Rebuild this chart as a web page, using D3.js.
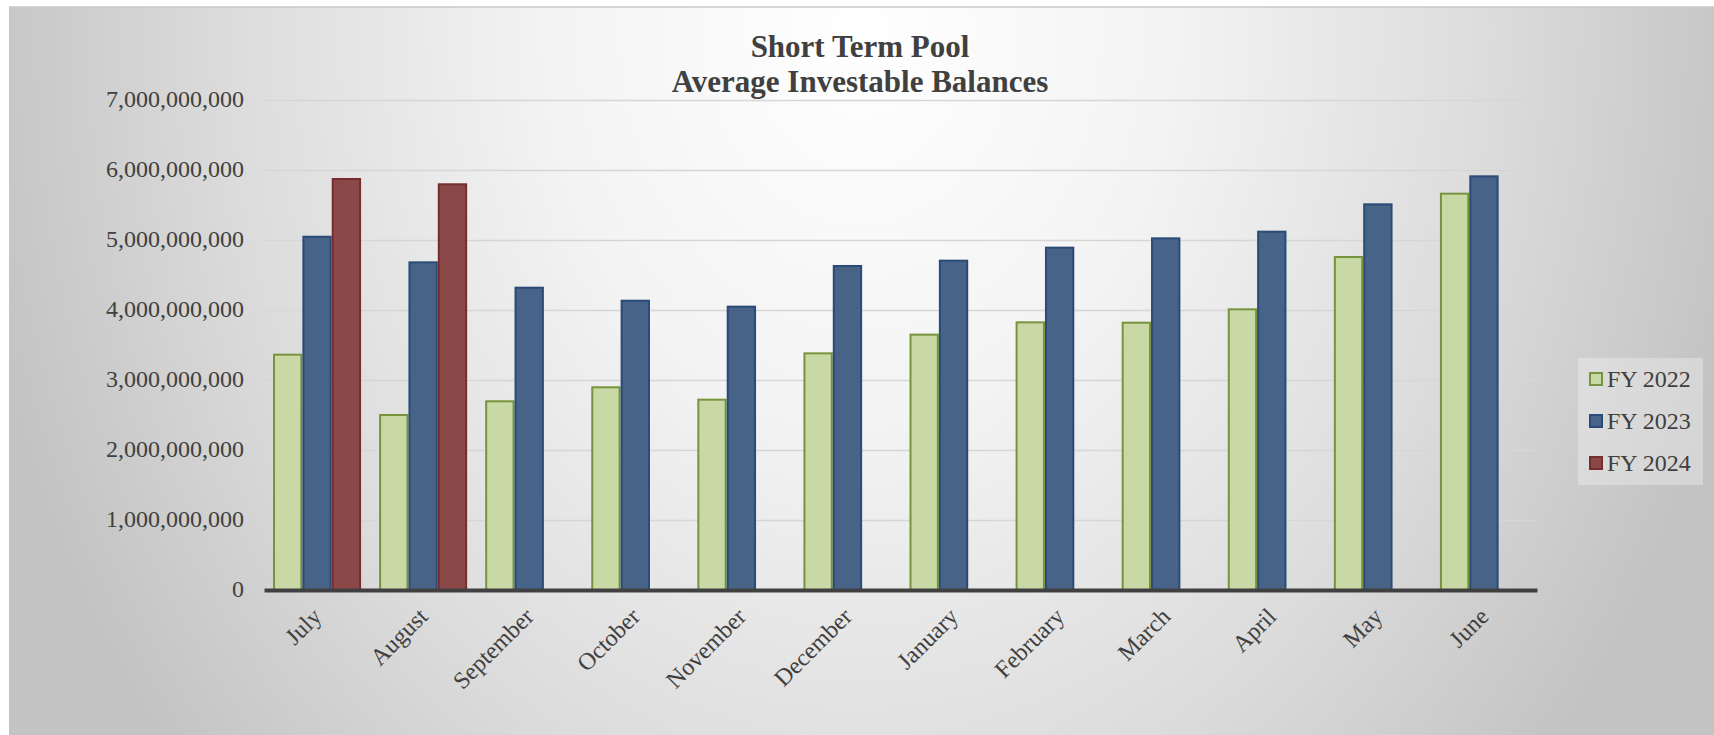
<!DOCTYPE html>
<html>
<head>
<meta charset="utf-8">
<script src="https://cdn.jsdelivr.net/npm/d3@7"></script>
<style>
    html, body { margin: 0; padding: 0; background: #fff; }
    #container { width: 1714px; height: 735px; }
    text { font-family: "Liberation Serif", "Times New Roman", serif; fill: #404040; }
</style>
</head>
<body>
<div id="container"></div>
<script>
const months = ["July", "August", "September", "October", "November", "December",
    "January", "February", "March", "April", "May", "June"]
const seriesNames = ["FY 2022", "FY 2023", "FY 2024"]
const fy2022 = [3376e6, 2514e6, 2710e6, 2910e6, 2733e6, 3395e6, 3662e6, 3838e6, 3833e6, 4024e6, 4771e6, 5676e6]
const fy2023 = [5061e6, 4695e6, 4333e6, 4147e6, 4062e6, 4643e6, 4719e6, 4905e6, 5038e6, 5133e6, 5524e6, 5924e6]
const fy2024 = [5886e6, 5810e6, null, null, null, null, null, null, null, null, null, null]
const yTicks = [0, 1e9, 2e9, 3e9, 4e9, 5e9, 6e9, 7e9]
const titleLines = ["Short Term Pool", "Average Investable Balances"]

const fills = ["#c9d9a6", "#476387", "#8a4848"]
const strokes = ["#77933c", "#2a4b78", "#772d2d"]

const width = 1714
const height = 735
const margin = { top: 100, left: 264, right: 1714 - 1537, bottom: 735 - 590 }

const svg = d3.select('#container')
    .append('svg').attr('width', width).attr('height', height)

// background with the soft radial shading
const defs = svg.append("defs")
const grad = defs.append("radialGradient")
    .attr("id", "bg")
    .attr("gradientUnits", "userSpaceOnUse")
    .attr("cx", 860).attr("cy", 30).attr("r", 900)
    .attr("gradientTransform", "translate(860,30) scale(1,1.25) translate(-860,-30)")
grad.append("stop").attr("offset", 0).attr("stop-color", "#ffffff")
grad.append("stop").attr("offset", 0.35).attr("stop-color", "#f3f3f3")
grad.append("stop").attr("offset", 0.7).attr("stop-color", "#dcdcdc")
grad.append("stop").attr("offset", 1).attr("stop-color", "#c3c3c3")

svg.append("rect")
    .attr("x", 9).attr("y", 7)
    .attr("width", width - 9).attr("height", height - 7)
    .attr("fill", "url(#bg)")
svg.append("line")
    .attr("x1", 9).attr("x2", width).attr("y1", 7).attr("y2", 7)
    .attr("stroke", "#c8c8c8").attr("stroke-width", 1.5)

const innerWidth = width - margin.left - margin.right
const innerHeight = height - margin.top - margin.bottom

const x0 = d3.scaleBand().domain(months)
    .range([margin.left, margin.left + innerWidth])
    .paddingInner(0.17).paddingOuter(0.085)
const x1 = d3.scaleBand().domain(seriesNames).range([0, x0.bandwidth()])
const y = d3.scaleLinear().domain([0, 7e9]).range([margin.top + innerHeight, margin.top])

// gridlines + y labels
const yAxis = svg.append("g")
    .attr("transform", `translate(${margin.left},0)`)
    .call(d3.axisLeft(y).tickValues(yTicks).tickFormat(d3.format(","))
        .tickSizeInner(-innerWidth).tickSizeOuter(0).tickPadding(20))
yAxis.select(".domain").remove()
yAxis.selectAll(".tick line")
    .attr("stroke", "#d6d6d6").attr("stroke-width", 1.5)
yAxis.selectAll(".tick text")
    .attr("font-size", 24).attr("dy", "0.28em")
    .style("font-family", '"Liberation Serif", "Times New Roman", serif')
    .attr("fill", "#404040")

// bars
const series = [fy2022, fy2023, fy2024]
const groups = svg.append("g").selectAll("g")
    .data(months)
    .join("g")
    .attr("transform", d => `translate(${x0(d)},0)`)

groups.selectAll("rect")
    .data((m, i) => series.map((s, k) => ({ key: seriesNames[k], k: k, v: s[i] }))
        .filter(d => d.v != null))
    .join("rect")
    .attr("x", d => x1(d.key) + 1)
    .attr("width", x1.bandwidth() - 2)
    .attr("y", d => y(d.v) + 1)
    .attr("height", d => y(0) - y(d.v) - 1)
    .attr("fill", d => fills[d.k])
    .attr("stroke", d => strokes[d.k])
    .attr("stroke-width", 2)

// x axis
const xAxis = svg.append("g")
    .attr("transform", `translate(0,${y(0)})`)
    .call(d3.axisBottom(x0).tickSize(0).tickSizeOuter(0))
xAxis.select(".domain")
    .attr("stroke", "#404040").attr("stroke-width", 4)
xAxis.selectAll(".tick text")
    .attr("x", 0).attr("y", 0).attr("dy", 0)
    .attr("transform", "translate(6,28) rotate(-45)")
    .attr("text-anchor", "end")
    .attr("font-size", 24)
    .style("font-family", '"Liberation Serif", "Times New Roman", serif')
    .attr("fill", "#404040")

// title
svg.append("text")
    .attr("x", 860).attr("y", 56.5)
    .attr("text-anchor", "middle")
    .attr("font-size", 31).attr("font-weight", "bold")
    .selectAll("tspan")
    .data(titleLines)
    .join("tspan")
    .attr("x", 860)
    .attr("dy", (d, i) => i === 0 ? 0 : 35)
    .text(d => d)

// legend
const legend = svg.append("g")
legend.append("rect")
    .attr("x", 1578).attr("y", 358)
    .attr("width", 125).attr("height", 127)
    .attr("fill", "#ffffff").attr("fill-opacity", 0.3)
const items = legend.selectAll("g.item")
    .data(seriesNames)
    .join("g")
    .attr("class", "item")
    .attr("transform", (d, i) => `translate(1589,${379 + i * 42})`)
items.append("rect")
    .attr("x", 1).attr("y", -6)
    .attr("width", 12).attr("height", 12)
    .attr("fill", (d, i) => fills[i])
    .attr("stroke", (d, i) => strokes[i])
    .attr("stroke-width", 2)
items.append("text")
    .attr("x", 18).attr("y", 8)
    .attr("font-size", 24)
    .text(d => d)
</script>
</body>
</html>
